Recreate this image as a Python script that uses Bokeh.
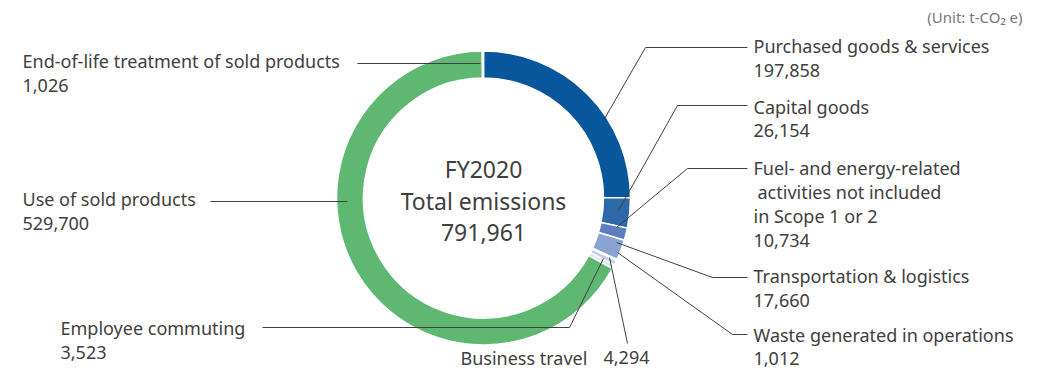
import numpy as np
from bokeh.plotting import figure
from bokeh.models import Range1d
from bokeh.core.properties import value
from bokeh.embed import file_html
from bokeh.resources import INLINE

# ---------------- data ----------------
categories = [
    "Purchased goods & services",
    "Capital goods",
    "Fuel- and energy-related activities not included in Scope 1 or 2",
    "Transportation & logistics",
    "Waste generated in operations",
    "Business travel",
    "Employee commuting",
    "Use of sold products",
    "End-of-life treatment of sold products",
]
emissions = [197858, 26154, 10734, 17660, 1012, 4294, 3523, 529700, 1026]
label_lines = [
    ["Purchased goods & services"],
    ["Capital goods"],
    ["Fuel- and energy-related", "activities not included", "in Scope 1 or 2"],
    ["Transportation & logistics"],
    ["Waste generated in operations"],
    ["Business travel"],
    ["Employee commuting"],
    ["Use of sold products"],
    ["End-of-life treatment of sold products"],
]
slice_colors = ["#08579C", "#2D69A8", "#5E7FBD", "#8BA3D2", "#9DB2DA",
                "#C3D1EB", "#DDE5F4", "#5EB872", "#F1EBB8"]
center_title = ["FY2020", "Total emissions"]
unit_text = "(Unit: t-CO\u2082 e)"

# ---------------- layout ----------------
W, H = 1042, 369
FONT = "Noto Sans"
TXT = "#404040"

def Y(sy):
    return H - sy

p = figure(width=W, height=H, x_range=Range1d(0, W), y_range=Range1d(0, H),
           output_backend="svg", toolbar_location=None,
           x_axis_type=None, y_axis_type=None, min_border=0)
p.outline_line_color = None
p.grid.visible = False
p.background_fill_color = "white"

cx, cy = 483, Y(197.5)
r_out, r_in = 147, 120

vals = np.array(emissions, dtype=float)
total = vals.sum()
cum = np.concatenate([[0], np.cumsum(vals)]) / total
start = np.pi / 2 - cum[:-1] * 2 * np.pi
end = np.pi / 2 - cum[1:] * 2 * np.pi

p.annular_wedge(x=cx, y=cy, inner_radius=r_in, outer_radius=r_out,
                start_angle=start, end_angle=end, direction="clock",
                fill_color=slice_colors, line_color="white", line_width=1.5)

# leader lines (screen coords)
leaders = [
    [(603, 120), (645, 47), (747, 47)],
    [(618, 210), (677, 105), (747, 105)],
    [(616, 227), (687, 168), (747, 168)],
    [(616, 242), (712, 277), (747, 277)],
    [(617, 252), (732, 334), (747, 334)],
    [(609, 257), (627, 343)],
    [(603, 258), (569, 327), (262, 327)],
    [(347, 201), (210, 201)],
    [(480, 63), (357, 63)],
]
p.multi_line(xs=[[pt[0] for pt in l] for l in leaders],
             ys=[[Y(pt[1]) for pt in l] for l in leaders],
             line_color="#404040", line_width=1)

# label anchors: (x, first line center y, line spacing)
anchors = [
    (753, 45, 25), (753, 106, 24), (753, 167, 24.2), (753, 275, 25),
    (753, 334, 24), (460, 357, 0), (60, 327, 25), (22, 198, 25), (22, 60, 25),
]
indent = {(2, 1): 4}
FS = "18px"
for i, (lines, (ax, ay, sp)) in enumerate(zip(label_lines, anchors)):
    vtxt = f"{emissions[i]:,}"
    if categories[i] == "Business travel":
        p.text(x=[ax], y=[Y(ay)], text=[lines[0]], text_font=value(FONT),
               text_font_size=FS, text_color=TXT, text_baseline="middle", text_align="left")
        p.text(x=[603], y=[Y(ay)], text=[vtxt], text_font=value(FONT),
               text_font_size=FS, text_color=TXT, text_baseline="middle", text_align="left")
        continue
    xs = [ax + indent.get((i, k), 0) for k in range(len(lines))] + [ax]
    ys = [Y(ay + k * sp) for k in range(len(lines) + 1)]
    p.text(x=xs, y=ys, text=lines + [vtxt], text_font=value(FONT),
           text_font_size=FS, text_color=TXT, text_baseline="middle", text_align="left")

# centre text
center_lines = center_title + [f"{int(total):,}"]
p.text(x=[cx] * 3, y=[Y(168), Y(200), Y(232)], text=center_lines, text_font=value(FONT),
       text_font_size="23px", text_color=TXT, text_baseline="middle", text_align="center")

# unit
p.text(x=[1022], y=[Y(16)], text=[unit_text], text_font=value(FONT),
       text_font_size="15px", text_color="#777777", text_baseline="middle", text_align="right")

open("out.html", "w").write(file_html(p, INLINE))
